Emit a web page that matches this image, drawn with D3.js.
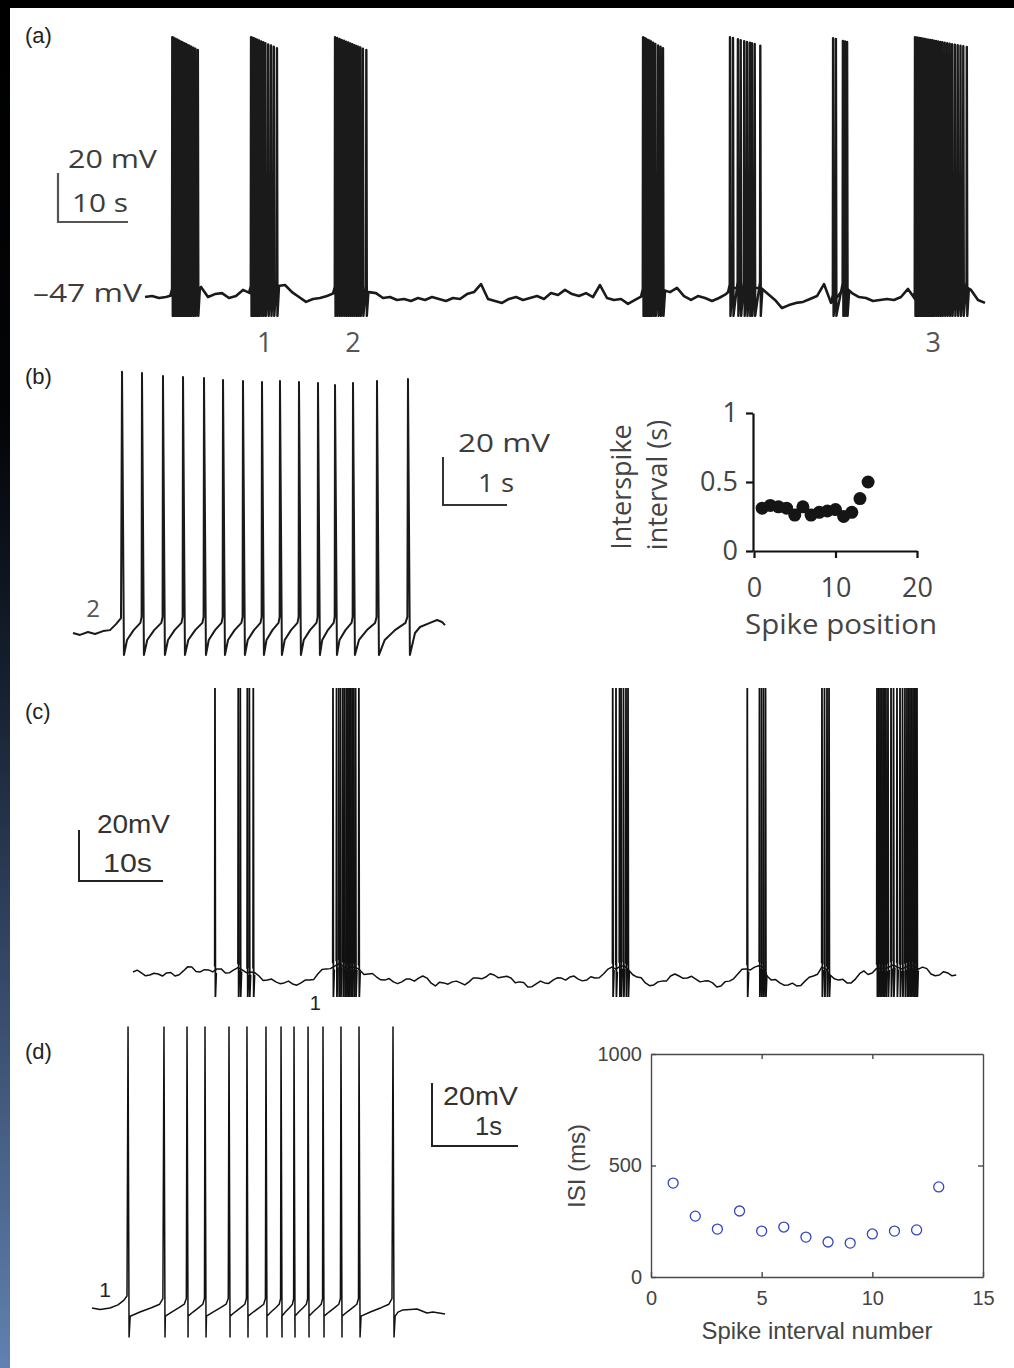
<!DOCTYPE html>
<html>
<head>
<meta charset="utf-8">
<script src="https://cdn.jsdelivr.net/npm/d3@7"></script>
<style>
  body { margin: 0; background: #fff; }
  svg { display: block; }
</style>
</head>
<body>
<div id="chart"></div>
<script>
// ---------------- data ----------------

// (a) long recording: baseline every 1 s (mV), bursts of spikes (s)
const aBaseline = [
  -46.6, -46.2, -47.0, -46.6, -45.8, -44.6, -44.6, -44.6, -42.5, -46.6,
  -45.4, -45.0, -47.0, -46.2, -43.7, -45.0, -42.9, -42.9, -42.9, -42.1,
  -41.7, -44.6, -46.6, -48.6, -47.4, -47.0, -46.2, -45.0, -44.6, -44.6,
  -44.6, -44.6, -44.6, -45.0, -47.0, -46.6, -47.8, -47.4, -48.2, -47.0,
  -47.8, -46.6, -47.4, -48.2, -47.0, -47.4, -45.4, -44.6, -41.3, -47.4,
  -48.2, -49.0, -47.4, -46.6, -47.8, -47.0, -46.2, -47.4, -45.0, -45.8,
  -43.7, -45.4, -46.2, -45.0, -46.6, -41.7, -47.0, -47.8, -47.4, -49.4,
  -47.8, -46.2, -43.7, -43.7, -43.7, -44.6, -42.9, -46.2, -47.8, -46.2,
  -47.0, -48.2, -47.0, -45.4, -42.9, -42.9, -42.9, -42.9, -42.9, -45.4,
  -47.8, -51.1, -49.9, -49.0, -48.6, -47.4, -46.2, -41.3, -49.0, -46.2,
  -42.5, -45.0, -46.6, -47.0, -48.2, -47.8, -47.4, -47.8, -46.6, -43.3,
  -47.4, -42.1, -42.1, -42.1, -42.1, -42.1, -42.1, -42.1, -43.7, -47.8, -49.0
];
const aBursts = [
  [3.9, 4.1, 4.35, 4.6, 4.85, 5.1, 5.35, 5.6, 5.85, 6.1, 6.35, 6.6, 6.9, 7.2, 7.55],
  [15.15, 15.35, 15.55, 15.8, 16.05, 16.3, 16.6, 16.9, 17.2, 17.6, 18.0, 18.4, 18.85],
  [27.15, 27.46, 27.79, 28.1, 28.43, 28.73, 29.04, 29.34, 29.62, 29.92, 30.21, 30.48, 30.76, 31.13, 31.62],
  [71.15, 71.35, 71.55, 71.8, 72.05, 72.3, 72.6, 72.9, 73.3, 73.65, 74.0],
  [83.57, 84.0, 84.7, 85.1, 85.6, 86.0, 86.4, 86.7, 87.1, 87.9],
  [98.3, 98.7, 99.7, 100.0, 100.3],
  [110.0, 110.2, 110.4, 110.6, 110.8, 111.0, 111.2, 111.45, 111.7, 111.95, 112.2, 112.45,
   112.7, 113.0, 113.3, 113.6, 113.9, 114.25, 114.6, 114.95, 115.3, 115.7, 116.1, 116.5, 116.9, 117.4]
];
const aBurstPeaks = [[59.5, 54.2], [59.5, 55.0], [59.5, 54.2], [59.5, 55.0], [59.5, 56.0], [59.0, 57.5], [59.5, 55.5]];
const aTrough = -54.3;
const aTagText = ["1", "2", "3"];
const aTagTime = [17.1, 29.7, 112.6];

// (b) burst "2" expanded
const bSpikes = [0.766, 1.078, 1.406, 1.719, 2.047, 2.344, 2.656, 2.953, 3.234, 3.531, 3.828, 4.094, 4.375, 4.75, 5.234];
const bPeaks = [61.9, 61.3, 60.1, 59.7, 59.3, 58.4, 58.0, 57.6, 58.0, 57.6, 57.2, 56.3, 57.2, 58.0, 58.8];
const bTrough = -56.2;
const bAhp = [[0.25, -49.9], [0.58, -45.8], [0.92, -42.8], [0.98, -40.3]]; // fraction of ISI, mV
const bPre = [[0, -47], [0.109, -47.8], [0.234, -46.6], [0.344, -47.4], [0.469, -46.2], [0.578, -45.8], [0.672, -43.3], [0.75, -40.8]];
const bPost = [[5.344, -47], [5.422, -44.5], [5.578, -42.8], [5.688, -41.6], [5.766, -42.4], [5.813, -43.7]];

// (b) inset: interspike interval vs spike position
const bIsiPos = [1, 2, 3, 4, 5, 6, 7, 8, 9, 10, 11, 12, 13, 14];
const bIsi = [0.31, 0.33, 0.32, 0.31, 0.26, 0.32, 0.26, 0.28, 0.29, 0.30, 0.25, 0.28, 0.38, 0.50];
const bIsiXTicks = [0, 10, 20];
const bIsiYTicks = [0, 0.5, 1];

// (c) second long recording: baseline every 0.5 s (mV), spike times (s)
const cStep = 0.5;
const cBaseline = [
  -48.8, -48.1, -49.2, -50.3, -50.0, -49.3, -49.6, -50.4, -49.2, -49.0,
  -50.4, -49.9, -48.4, -46.8, -46.9, -48.6, -48.8, -47.9, -48.0, -48.8,
  -47.6, -47.6, -49.2, -49.1, -48.0, -47.1, -48.0, -49.1, -48.8, -49.1,
  -50.4, -52.2, -52.0, -51.6, -52.7, -53.4, -53.1, -52.4, -53.5, -54.0,
  -53.1, -52.0, -52.0, -51.8, -49.6, -47.8, -47.6, -47.5, -46.5, -45.6,
  -46.5, -47.4, -46.9, -47.0, -48.0, -49.8, -49.6, -49.4, -50.8, -51.9,
  -52.0, -51.4, -52.7, -53.4, -52.7, -51.6, -51.6, -52.4, -51.2, -50.4,
  -51.2, -53.2, -54.3, -52.8, -53.1, -53.6, -52.7, -52.4, -53.1, -53.9,
  -52.7, -51.2, -51.2, -51.5, -50.8, -49.5, -50.0, -51.1, -50.8, -50.5,
  -51.2, -53.0, -52.7, -52.9, -54.7, -54.6, -53.5, -52.4, -53.1, -53.3,
  -52.0, -51.1, -51.2, -52.0, -50.8, -50.4, -51.6, -52.3, -52.0, -50.7,
  -51.2, -51.1, -49.6, -47.8, -46.9, -47.7, -46.5, -46.5, -48.0, -49.9,
  -50.8, -51.1, -53.1, -54.2, -53.9, -52.7, -52.4, -52.4, -50.4, -49.6,
  -50.4, -51.3, -51.2, -50.5, -51.6, -52.7, -52.4, -52.3, -53.1, -54.7,
  -54.3, -52.6, -52.4, -51.5, -49.6, -47.7, -47.6, -48.0, -46.9, -46.4,
  -46.9, -50.5, -52.0, -51.8, -53.1, -54.0, -53.9, -53.2, -54.3, -54.1,
  -52.4, -50.9, -50.4, -49.7, -46.9, -47.7, -50.0, -51.5, -52.0, -51.7,
  -53.1, -53.1, -51.6, -49.5, -48.4, -49.8, -49.2, -47.5, -47.3, -47.6,
  -46.9, -46.0, -46.9, -47.6, -46.9, -46.2, -46.5, -47.7, -46.9, -47.5,
  -49.6, -50.3, -50.0, -48.7, -49.2, -50.3, -50.0
];
const cSpikes = [
  9.76, 12.53, 12.77, 13.61, 13.85, 14.32,
  23.81, 24.23, 24.50, 24.71, 24.99, 25.20, 25.42, 25.59, 25.74, 25.91, 26.08, 26.29, 26.50, 26.89,
  57.11, 57.5, 57.92, 58.1, 58.39, 58.69, 58.93,
  73.13, 74.58, 74.82, 75.06, 75.30,
  82.02, 82.32, 82.62, 82.86,
  88.57, 88.75, 88.93, 89.11, 89.29, 89.46, 89.64, 89.88, 90.24, 90.54, 90.95, 91.31, 91.61, 91.90,
  92.14, 92.32, 92.5, 92.68, 92.86, 93.04, 93.21, 93.33
];
const cPeak = 62.5;
const cTrough = -58.6;
const cTagText = ["1"];
const cTagTime = [21.7];

// (d) burst "1" expanded
const dSpikes = [0.419, 0.837, 1.105, 1.314, 1.593, 1.802, 2.023, 2.198, 2.349, 2.512, 2.686, 2.895, 3.105, 3.5];
const dPeak = 29.2;
const dTrough = -69.2;
const dAhp = [[0.06, -62.6], [0.35, -61.2], [0.65, -59.9], [0.88, -58.8], [0.97, -57.0]];
const dPre = [[0, -60], [0.093, -60.5], [0.209, -60], [0.302, -59], [0.372, -57.5], [0.407, -56.2]];
const dPost = [[3.525, -62.6], [3.558, -61.3], [3.616, -60.6], [3.779, -60.3], [3.895, -61.6], [3.965, -61.3], [4.105, -61.9]];

// (d) inset: ISI (ms) vs spike interval number
const dIsiNum = [1, 2, 3, 4, 5, 6, 7, 8, 9, 10, 11, 12, 13];
const dIsi = [421, 273, 215, 296, 206, 224, 179, 157, 152, 193, 206, 211, 404];
const dIsiXTicks = [0, 5, 10, 15];
const dIsiYTicks = [0, 500, 1000];

// ---------------- drawing ----------------
const W = 1014, H = 1368;
const svg = d3.select("#chart").append("svg").attr("width", W).attr("height", H);

// page frame: black strip on top, dark-to-blue strip on the left
const defs = svg.append("defs");
const grad = defs.append("linearGradient").attr("id", "edge").attr("x1", 0).attr("y1", 0).attr("x2", 0).attr("y2", 1);
[[0, "#000"], [0.3, "#030406"], [0.5, "#162030"], [0.75, "#3a4f70"], [1, "#6181af"]]
  .forEach(([o, c]) => grad.append("stop").attr("offset", o).attr("stop-color", c));
svg.append("rect").attr("width", W).attr("height", H).attr("fill", "#fff");
svg.append("rect").attr("width", W).attr("height", 8).attr("fill", "#000");
svg.append("rect").attr("width", 10).attr("height", H).attr("fill", "url(#edge)");

const SANS = "'Open Sans', 'Noto Sans', sans-serif";
const ARIAL = "'Liberation Sans', Arial, sans-serif";
const INK = "#1a1a1a";

function label(g, x, y, s, o) {
  const t = g.append("text")
    .attr("x", x).attr("y", y).text(s)
    .attr("font-family", o.font || SANS)
    .attr("font-size", o.size)
    .attr("fill", o.fill || "#3c3c3c")
    .attr("text-anchor", o.anchor || "start");
  if (o.len) t.attr("textLength", o.len).attr("lengthAdjust", "spacingAndGlyphs");
  if (o.rotate) t.attr("transform", `rotate(-90,${x},${y})`);
  return t;
}

function scaleBar(g, x0, y0, w, h, color, width) {
  g.append("path")
    .attr("d", `M${x0},${y0 - h}V${y0}H${x0 + w}`)
    .attr("fill", "none").attr("stroke", color).attr("stroke-width", width);
}

// builds a trace from a pre segment, spikes with an AHP template, and a post segment
function buildTrace(spikes, peaks, trough, troughDt, ahp, pre, post) {
  const pts = pre.slice();
  spikes.forEach((t, i) => {
    pts.push([t, peaks[i]]);
    pts.push([t + troughDt, trough]);
    if (i < spikes.length - 1) {
      const isi = spikes[i + 1] - t;
      ahp.forEach(([f, v]) => pts.push([t + f * isi, v]));
    }
  });
  return pts.concat(post);
}

// panel letters
[["(a)", 43], ["(b)", 384], ["(c)", 719], ["(d)", 1059]].forEach(([s, y]) =>
  label(svg, 25, y, s, { font: ARIAL, size: 22, fill: "#222" }));

// ---------- (a) ----------
const gA = svg.append("g");
const xA = d3.scaleLinear().domain([0, 120]).range([145, 985]);
const yA = d3.scaleLinear().domain([-47, -27]).range([298, 249]);
const aBaseAt = d3.scaleLinear().domain(d3.range(aBaseline.length)).range(aBaseline);

gA.append("path")
  .datum(aBaseline)
  .attr("d", d3.line().x((d, i) => xA(i)).y(d => yA(d)))
  .attr("fill", "none").attr("stroke", INK).attr("stroke-width", 2.6).attr("stroke-linejoin", "round");

const lineA = d3.line().x(d => xA(d[0])).y(d => yA(d[1]));
gA.selectAll(".burst")
  .data(aBursts)
  .join("path")
  .attr("class", "burst")
  .attr("d", (times, k) => {
    const pk = d3.scaleLinear().domain([times[0], times[times.length - 1]]).range(aBurstPeaks[k]);
    const pts = [[times[0] - 0.3, aBaseAt(times[0] - 0.3)]];
    times.forEach(t => {
      pts.push([t - 0.04, aBaseAt(t) + 2.5], [t, pk(t)], [t + 0.07, aTrough]);
    });
    const tEnd = times[times.length - 1] + 0.3;
    pts.push([tEnd, aBaseAt(tEnd)]);
    return lineA(pts);
  })
  .attr("fill", "none").attr("stroke", INK).attr("stroke-width", 2.4).attr("stroke-linejoin", "round");

scaleBar(gA, 58, 222, xA(10) - xA(0), yA(-47) - yA(-27), "#555", 2.2);
label(gA, 68, 168, "20 mV", { size: 25, len: 89 });
label(gA, 72, 212, "10 s", { size: 25, len: 56 });
label(gA, 33, 302, "\u201347 mV", { size: 25, len: 109 });
gA.selectAll(".tag")
  .data(aTagText)
  .join("text")
  .attr("class", "tag")
  .attr("x", (d, i) => xA(aTagTime[i])).attr("y", 352)
  .attr("text-anchor", "middle")
  .attr("font-family", SANS).attr("font-size", 27).attr("fill", "#555")
  .text(d => d);

// ---------- (b) ----------
const gB = svg.append("g");
const xB = d3.scaleLinear().domain([0, 1]).range([73, 137]);
const yB = d3.scaleLinear().domain([-47, -27]).range([633, 585]);
gB.append("path")
  .datum(buildTrace(bSpikes, bPeaks, bTrough, 0.03, bAhp, bPre, bPost))
  .attr("d", d3.line().x(d => xB(d[0])).y(d => yB(d[1])))
  .attr("fill", "none").attr("stroke", INK).attr("stroke-width", 2).attr("stroke-linejoin", "round");
label(gB, 93, 617, "2", { size: 24, anchor: "middle", fill: "#555" });
scaleBar(gB, 443, 505, xB(1) - xB(0), yB(-47) - yB(-27), "#333", 2);
label(gB, 458, 452, "20 mV", { size: 26, len: 92 });
label(gB, 478, 492, "1 s", { size: 26, len: 36 });

// inset (b)
const gBi = svg.append("g");
const xI = d3.scaleLinear().domain([0, 20]).range([754, 917]);
const yI = d3.scaleLinear().domain([0, 1]).range([551, 413]);
const axI = gBi.append("g").attr("transform", "translate(0,551)")
  .call(d3.axisBottom(xI).tickValues(bIsiXTicks).tickSize(7).tickSizeOuter(0).tickPadding(20).tickFormat(d => d));
const ayI = gBi.append("g").attr("transform", "translate(753,0)")
  .call(d3.axisLeft(yI).tickValues(bIsiYTicks).tickSize(7).tickSizeOuter(0).tickPadding(8).tickFormat(d => d));
[axI, ayI].forEach(a => {
  a.select(".domain").attr("stroke", "#111").attr("stroke-width", 2.2);
  a.selectAll(".tick line").attr("stroke", "#111").attr("stroke-width", 2.2);
  a.selectAll("text").attr("font-family", SANS).attr("font-size", 27).attr("fill", "#444");
});
gBi.selectAll(".dot")
  .data(bIsi)
  .join("circle")
  .attr("class", "dot")
  .attr("cx", (d, i) => xI(bIsiPos[i])).attr("cy", d => yI(d))
  .attr("r", 6.5).attr("fill", "#151515");
label(gBi, 631, 487, "Interspike", { size: 27, anchor: "middle", rotate: true, fill: "#444" });
label(gBi, 667, 485, "interval (s)", { size: 27, anchor: "middle", rotate: true, fill: "#444" });
label(gBi, 841, 634, "Spike position", { size: 27, anchor: "middle", fill: "#444", len: 192 });

// ---------- (c) ----------
const gC = svg.append("g");
const xC = d3.scaleLinear().domain([0, 10]).range([133, 217]);
const yC = d3.scaleLinear().domain([-50, -30]).range([975, 924]);
const cBaseAt = d3.scaleLinear().domain(d3.range(cBaseline.length).map(i => i * cStep)).range(cBaseline);
gC.append("path")
  .datum(cBaseline)
  .attr("d", d3.line().x((d, i) => xC(i * cStep)).y(d => yC(d)))
  .attr("fill", "none").attr("stroke", "#111").attr("stroke-width", 1.5).attr("stroke-linejoin", "round");
const lineC = d3.line().x(d => xC(d[0])).y(d => yC(d[1]));
gC.selectAll(".spk")
  .data(cSpikes)
  .join("path")
  .attr("class", "spk")
  .attr("d", t => lineC([[t - 0.03, cBaseAt(t) + 1.5], [t, cPeak], [t + 0.05, cTrough], [t + 0.15, cBaseAt(t) - 1]]))
  .attr("fill", "none").attr("stroke", "#111").attr("stroke-width", 1.8);
scaleBar(gC, 79, 881, xC(10) - xC(0), yC(-50) - yC(-30), "#222", 2);
label(gC, 97, 833, "20mV", { font: ARIAL, size: 25, len: 73, fill: "#333" });
label(gC, 103, 872, "10s", { font: ARIAL, size: 25, len: 49, fill: "#333" });
gC.selectAll(".tag")
  .data(cTagText)
  .join("text")
  .attr("class", "tag")
  .attr("x", (d, i) => xC(cTagTime[i])).attr("y", 1010)
  .attr("text-anchor", "middle")
  .attr("font-family", ARIAL).attr("font-size", 20).attr("fill", "#222")
  .text(d => d);

// ---------- (d) ----------
const gD = svg.append("g");
const xD = d3.scaleLinear().domain([0, 1]).range([92, 178]);
const yD = d3.scaleLinear().domain([-60, -40]).range([1308, 1245]);
gD.append("path")
  .datum(buildTrace(dSpikes, dSpikes.map(() => dPeak), dTrough, 0.012, dAhp, dPre, dPost))
  .attr("d", d3.line().x(d => xD(d[0])).y(d => yD(d[1])))
  .attr("fill", "none").attr("stroke", "#111").attr("stroke-width", 1.5).attr("stroke-linejoin", "round");
label(gD, 105, 1297, "1", { font: ARIAL, size: 21, anchor: "middle", fill: "#222" });
scaleBar(gD, 432, 1146, xD(1) - xD(0), yD(-60) - yD(-40), "#222", 2);
label(gD, 443, 1105, "20mV", { font: ARIAL, size: 25, len: 75, fill: "#333" });
label(gD, 475, 1135, "1s", { font: ARIAL, size: 25, len: 27, fill: "#333" });

// inset (d)
const gDi = svg.append("g");
const xJ = d3.scaleLinear().domain([0, 15]).range([651, 983]);
const yJ = d3.scaleLinear().domain([0, 1000]).range([1277, 1054]);
const fmtInt = d3.format("d");
const axes = [
  gDi.append("g").attr("transform", "translate(0,1277)")
    .call(d3.axisBottom(xJ).tickValues(dIsiXTicks).tickSize(-5).tickSizeOuter(0).tickPadding(14).tickFormat(fmtInt)),
  gDi.append("g").attr("transform", "translate(651,0)")
    .call(d3.axisLeft(yJ).tickValues(dIsiYTicks).tickSize(-5).tickSizeOuter(0).tickPadding(9).tickFormat(fmtInt)),
  gDi.append("g").attr("transform", "translate(0,1054)")
    .call(d3.axisTop(xJ).tickValues(dIsiXTicks.slice(1, 3)).tickSize(-5).tickSizeOuter(0).tickFormat("")),
  gDi.append("g").attr("transform", "translate(983,0)")
    .call(d3.axisRight(yJ).tickValues(dIsiYTicks.slice(1, 2)).tickSize(-5).tickSizeOuter(0).tickFormat(""))
];
axes.forEach(a => {
  a.select(".domain").attr("stroke", "#4a4a4a").attr("stroke-width", 1.4);
  a.selectAll(".tick line").attr("stroke", "#4a4a4a").attr("stroke-width", 1.4);
  a.selectAll("text").attr("font-family", ARIAL).attr("font-size", 20).attr("fill", "#444");
});
gDi.selectAll(".isi")
  .data(dIsi)
  .join("circle")
  .attr("class", "isi")
  .attr("cx", (d, i) => xJ(dIsiNum[i])).attr("cy", d => yJ(d))
  .attr("r", 5).attr("fill", "none").attr("stroke", "#3446c0").attr("stroke-width", 1.3);
label(gDi, 817, 1339, "Spike interval number", { font: ARIAL, size: 24, anchor: "middle", fill: "#444", len: 231 });
label(gDi, 585, 1166, "ISI (ms)", { font: ARIAL, size: 24, anchor: "middle", rotate: true, fill: "#444" });
</script>
</body>
</html>
